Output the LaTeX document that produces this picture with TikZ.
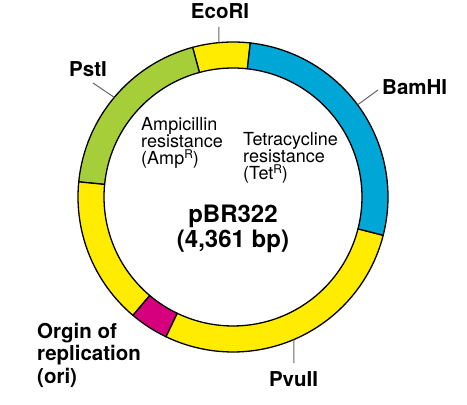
\documentclass[tikz,border=0pt]{standalone}
\usepackage{fontspec}
\setmainfont{TeX Gyre Heros}
\definecolor{ampgreen}{RGB}{166,206,57}
\definecolor{plyellow}{RGB}{255,236,0}
\definecolor{tetblue}{RGB}{0,166,214}
\definecolor{orimag}{RGB}{214,0,126}
\newcommand\ringseg[3]{%
  \path[ring, fill=#3, shift={(233,208)}] (#1:155) arc[start angle=#1, end angle=#2, radius=155]
    -- (#2:129) arc[start angle=#2, end angle=#1, radius=129] -- cycle;}
\newcommand\tightlines{\lineskiplimit=-20pt\relax}
\newcommand\supR{\raisebox{6pt}{\fontsize{12}{12}\selectfont R}}
\begin{document}
\begin{tikzpicture}[x=1pt,y=1pt,
  ring/.style={draw=black, line width=1.3pt, line join=round},
  tick/.style={draw=black!60, line width=1pt},
  site/.style={font=\fontsize{20.5}{22.5}\selectfont\bfseries, inner sep=0pt},
  inlab/.style={font=\fontsize{18}{17}\selectfont\tightlines, align=left, inner sep=0pt, anchor=north west},
  title/.style={font=\fontsize{24}{25}\selectfont\bfseries\tightlines, align=center, inner sep=0pt, anchor=north}]
\useasboundingbox (0,0) rectangle (467,405);
\fill[white] (0,0) rectangle (467,405);
\coordinate (c) at (233,208);
% ring segments
\ringseg{83.6}{105.1}{plyellow}
\ringseg{105.1}{174.4}{ampgreen}
\ringseg{174.4}{229.8}{plyellow}
\ringseg{229.8}{244.4}{orimag}
\ringseg{244.4}{345.7}{plyellow}
\ringseg{345.7}{443.6}{tetblue}
% points on the ring
\coordinate (ecoOn) at ([shift={(95.2:155)}]c);
\coordinate (pstOn) at ([shift={(140:155)}]c);
\coordinate (bamOn) at ([shift={(36.5:155)}]c);
\coordinate (pvuOn) at ([shift={(-66.9:155)}]c);
% tick ends
\coordinate (ecoT) at (219,378);
\coordinate (pstT) at (93,322);
\coordinate (bamT) at (378,315);
\coordinate (pvuT) at (294,42);
% site labels
\node[site, anchor=base] (ecori) at (220,386) {EcoRI};
\node[site, anchor=base] (psti) at (88,328) {PstI};
\node[site, anchor=base west] (bamhi) at (382,310) {BamHI};
\node[site, anchor=base] (pvuii) at (293.5,18) {PvuII};
\node[site, align=left, anchor=north west] (ori) at (37,82.2) {Orgin of\\replication\\(ori)};
% ticks
\draw[tick] (ecoT) -- (ecoOn);
\draw[tick] (pstT) -- (pstOn);
\draw[tick] (bamT) -- (bamOn);
\draw[tick] (pvuT) -- (pvuOn);
% inner labels
\node[inlab] (amp) at (141,287.4) {Ampicillin\\resistance\\(Amp\supR)};
\node[inlab] (tet) at (243,272.4) {Tetracycline\\resistance\\(Tet\supR)};
\node[title] (name) at (233,200.2) {pBR322\\(4,361 bp)};
\end{tikzpicture}
\end{document}
